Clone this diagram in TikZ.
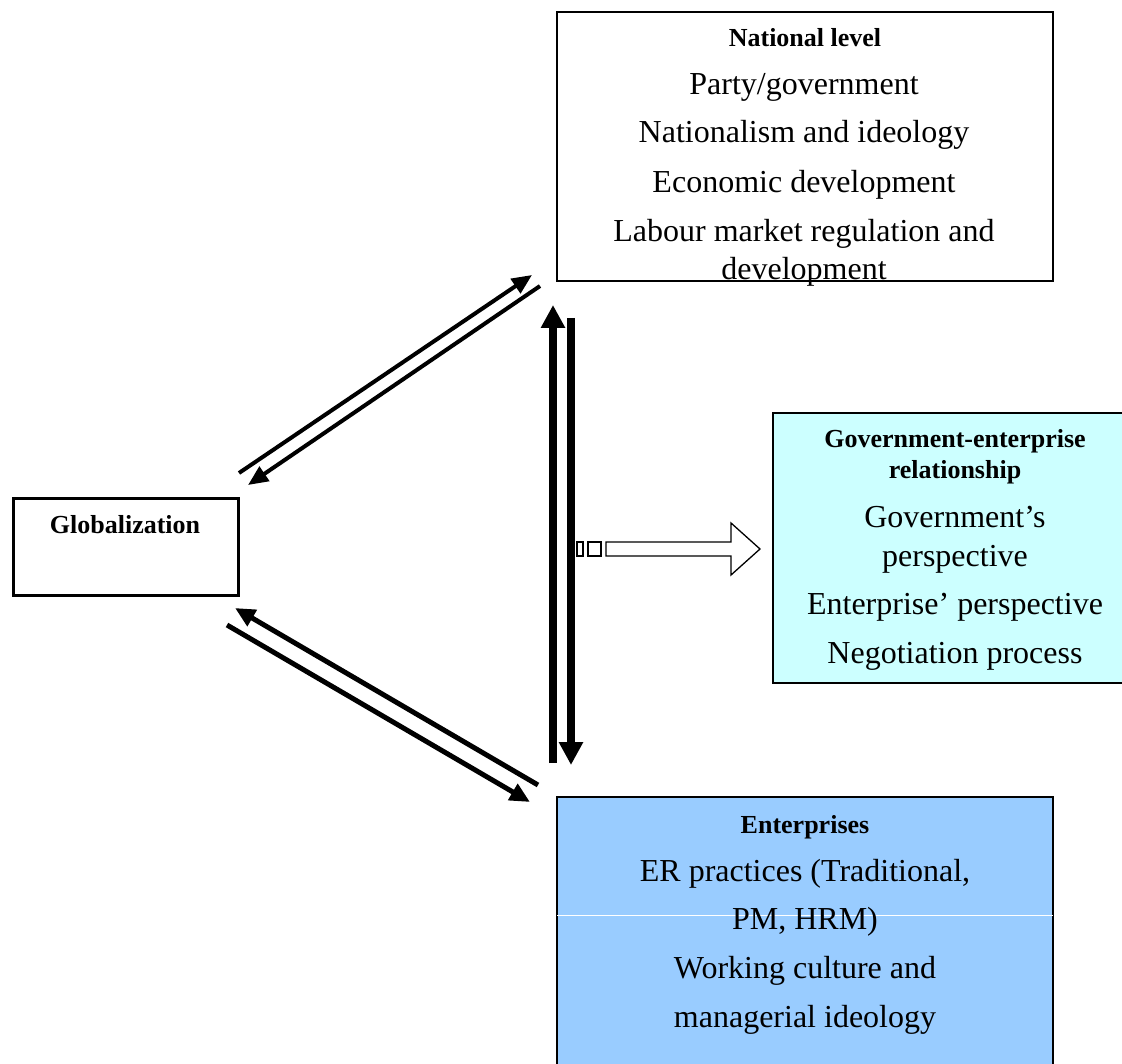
\documentclass[tikz,border=0pt]{standalone}
\usepackage{fontspec}
\setmainfont{Liberation Serif}
\usetikzlibrary{arrows.meta}
\definecolor{gebox}{HTML}{CCFFFF}
\definecolor{entbox}{HTML}{99CCFF}
\tikzset{
  bt/.style={font=\bfseries\fontsize{26}{30}\selectfont, inner sep=0pt, anchor=base},
  rt/.style={font=\fontsize{32}{38}\selectfont, inner sep=0pt, anchor=base},
  boxn/.style={draw=black, rectangle, inner sep=0pt},
  thinarr/.style={line width=4pt, -{Triangle[length=20pt,width=17pt]}},
  midarr/.style={line width=5pt, -{Triangle[length=20pt,width=18pt]}},
  thickarr/.style={line width=7.5pt, -{Triangle[length=23pt,width=23pt]}},
}
\begin{document}
\begin{tikzpicture}[x=1pt,y=-1pt]
\clip (0,0) rectangle (1122,1064);
\fill[white] (0,0) rectangle (1122,1064);

% boxes
\node[boxn, line width=2pt, minimum width=496pt, minimum height=269pt] (nat) at (805,146.5) {};
\node[boxn, line width=3pt, minimum width=225pt, minimum height=97pt] (glob) at (126,547) {};
\node[boxn, fill=gebox, line width=2pt, minimum width=377pt, minimum height=270pt] (ge) at (961.5,548) {};
\node[boxn, fill=entbox, line width=2.5pt, minimum width=496pt, minimum height=283pt] (ent) at (805,938.5) {};
\draw[white, line width=1pt] (557,915) -- (1053,915);

% texts: national level
\node[bt] (n0) at (805,47) {National level};
\node[rt] (n1) at (804,95) {Party/government};
\node[rt] (n2) at (804,143) {Nationalism and ideology};
\node[rt] (n3) at (804,193) {Economic development};
\node[rt] (n4) at (804,242) {Labour market regulation and};
\node[rt] (n5) at (804,280) {development};

% globalization
\node[bt] (g0) at (125,533) {Globalization};

% government-enterprise relationship
\node[bt] (r0) at (955,447) {Government-enterprise};
\node[bt] (r1) at (955,478) {relationship};
\node[rt] (r2) at (955,527) {Government’s};
\node[rt] (r3) at (955,566) {perspective};
\node[rt] (r4) at (955,614) {Enterprise’ perspective};
\node[rt] (r5) at (955,663) {Negotiation process};

% enterprises
\node[bt] (e0) at (805,833) {Enterprises};
\node[rt] (e1) at (805,881) {ER practices (Traditional,};
\node[rt] (e2) at (805,929) {PM, HRM)};
\node[rt] (e3) at (805,978) {Working culture and};
\node[rt] (e4) at (805,1027) {managerial ideology};

% connector end points
\coordinate (a1s) at (239,473);
\coordinate (a1e) at (532,275);
\coordinate (a2s) at (540,286);
\coordinate (a2e) at (248,485);
\coordinate (b1s) at (538,785);
\coordinate (b1e) at (235,608);
\coordinate (b2s) at (227,625);
\coordinate (b2e) at (530,802);
\coordinate (v1s) at (553,763);
\coordinate (v1e) at (553,305);
\coordinate (v2s) at (571,318);
\coordinate (v2e) at (571,765);

\draw[thinarr] (a1s) -- (a1e);
\draw[thinarr] (a2s) -- (a2e);
\draw[midarr] (b1s) -- (b1e);
\draw[midarr] (b2s) -- (b2e);
\draw[thickarr] (v1s) -- (v1e);
\draw[thickarr] (v2s) -- (v2e);

% striped block arrow
\draw[line width=1.3pt, fill=white] (577,542) rectangle (583,556);
\draw[line width=1.3pt, fill=white] (588,542) rectangle (601,556);
\draw[line width=1.3pt, fill=white, line join=miter]
  (606,542) -- (731,542) -- (731,523) -- (760,549) -- (731,575) -- (731,556) -- (606,556) -- cycle;
\end{tikzpicture}
\end{document}
